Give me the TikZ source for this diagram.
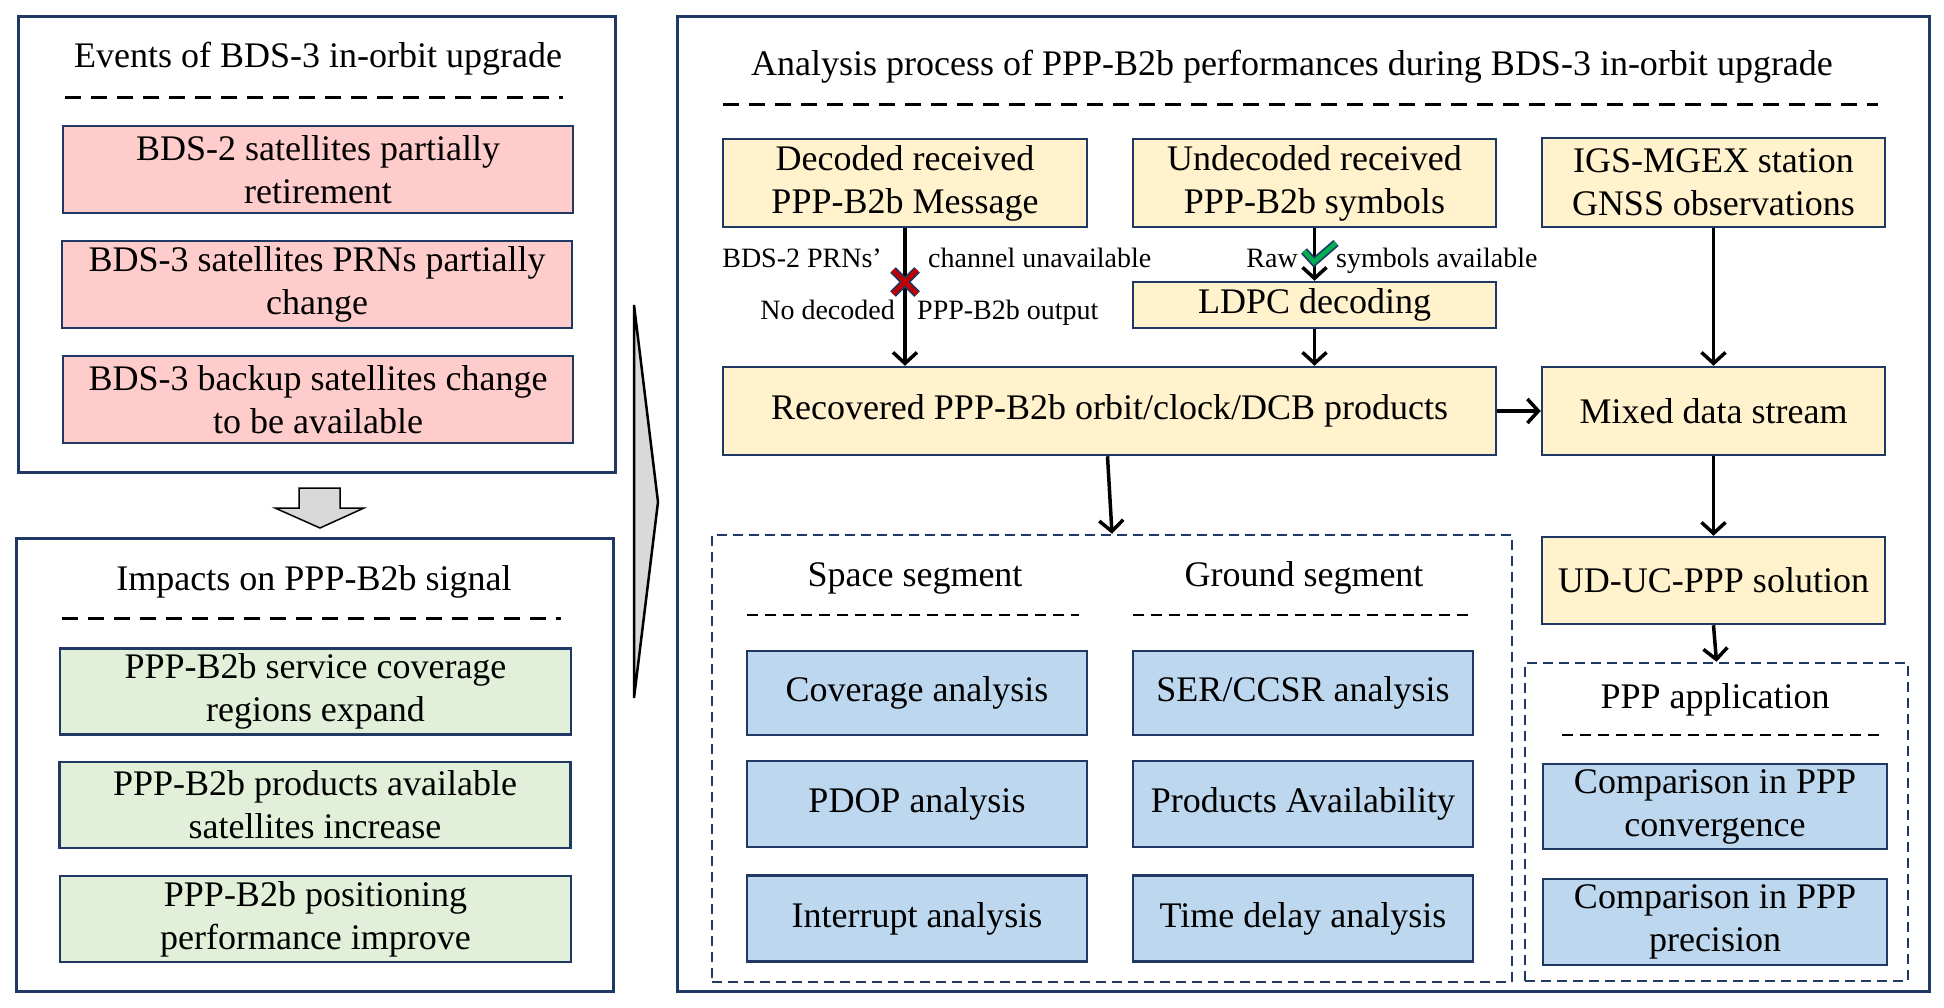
\documentclass[tikz,border=0pt]{standalone}
\usepackage{fontspec}
\setmainfont{Liberation Serif}
\usetikzlibrary{arrows.meta}
\definecolor{navy}{HTML}{203864}
\definecolor{pinkf}{HTML}{FFCCCC}
\definecolor{greenf}{HTML}{E2F0D9}
\definecolor{yellowf}{HTML}{FFF2CC}
\definecolor{bluef}{HTML}{BDD7EE}
\definecolor{greyf}{HTML}{D9D9D9}
\definecolor{crossred}{HTML}{C00000}
\definecolor{checkgreen}{HTML}{00B050}
\begin{document}
\begin{tikzpicture}[x=1pt,y=-1pt,
  txt/.style={font=\fontsize{36}{43}\selectfont, align=center, inner sep=0pt},
  lbl/.style={font=\fontsize{28}{33}\selectfont, inner sep=0pt},
  frame/.style={draw=navy, line width=3pt, fill=white, inner sep=0pt},
  cbox/.style={txt, draw=navy, line width=2.5pt},
  pinkbox/.style={cbox, fill=pinkf, minimum width=510pt, minimum height=87pt},
  greenbox/.style={cbox, fill=greenf, minimum width=511pt, minimum height=86pt},
  yelbox/.style={cbox, fill=yellowf},
  bluebox/.style={cbox, fill=bluef},
  dbox/.style={draw=navy, line width=2.5pt, dash pattern=on 10pt off 6pt, inner sep=0pt},
  sepline/.style={black, line width=3pt, dash pattern=on 16pt off 10pt},
  subline/.style={black, line width=2.5pt, dash pattern=on 11pt off 7pt},
  arr/.style={black, line width=3.5pt, -{Straight Barb[length=11pt,width=24pt]}},
  bigarrow/.style={fill=greyf, draw=black, line width=2.5pt, line join=miter}
]
\useasboundingbox (0,0) rectangle (1944,1007);

% ---------------- Left upper frame ----------------
\node[frame, minimum width=597pt, minimum height=456pt] (evt) at (316.5,244) {};
\node[txt, anchor=base] (evtT) at (318,67) {Events of BDS-3 in-orbit upgrade};
\draw[sepline] (65,97) -- (563,97);
\node[pinkbox] (p1) at (318,169.5) {BDS-2 satellites partially\\retirement};
\node[pinkbox] (p2) at (317,284.5) {BDS-3 satellites PRNs partially\\change};
\node[pinkbox] (p3) at (318,399.5) {BDS-3 backup satellites change\\to be available};

% block arrow down
\draw[fill=greyf, draw=black, line width=1.5pt]
  (299,488) -- (340,488) -- (340,508) -- (364,508) -- (320,528) -- (275,508) -- (299,508) -- cycle;

% ---------------- Left lower frame ----------------
\node[frame, minimum width=597pt, minimum height=453pt] (imp) at (314.5,764.5) {};
\node[txt, anchor=base] (impT) at (314,590) {Impacts on PPP-B2b signal};
\draw[sepline] (62,618) -- (561,618);
\node[greenbox] (g1) at (315.5,691.5) {PPP-B2b service coverage\\regions expand};
\node[greenbox] (g2) at (315,805) {PPP-B2b products available\\satellites increase};
\node[greenbox] (g3) at (315.5,919) {PPP-B2b positioning\\performance improve};

% big grey arrow
\draw[bigarrow] (634,305) -- (658,502) -- (634,698) -- cycle;

% ---------------- Right frame ----------------
\node[frame, minimum width=1252pt, minimum height=975pt] (ana) at (1303,503.5) {};
\node[txt, anchor=base] (anaT) at (1292,75) {Analysis process of PPP-B2b performances during BDS-3 in-orbit upgrade};
\draw[sepline] (723,104) -- (1878,104);

\node[yelbox, minimum width=364pt, minimum height=88pt] (dec) at (905,183) {Decoded received\\PPP-B2b Message};
\node[yelbox, minimum width=363pt, minimum height=88pt] (und) at (1314.5,183) {Undecoded received\\PPP-B2b symbols};
\node[yelbox, minimum width=343pt, minimum height=89pt] (igs) at (1713.5,182.5) {IGS-MGEX station\\GNSS observations};
\node[yelbox, minimum width=363pt, minimum height=46pt] (ldpc) at (1314.5,305) {LDPC decoding};
\node[yelbox, minimum width=773pt, minimum height=88pt] (rec) at (1109.5,411) {Recovered PPP-B2b orbit/clock/DCB products};
\node[yelbox, minimum width=343pt, minimum height=88pt] (mix) at (1713.5,411) {Mixed data stream};
\node[yelbox, minimum width=343pt, minimum height=87pt] (ud) at (1713.5,580.5) {UD-UC-PPP solution};

% segment dashed box
\node[dbox, minimum width=800pt, minimum height=447pt] (seg) at (1112,758.5) {};
\node[txt, anchor=base] (spT) at (915,586) {Space segment};
\node[txt, anchor=base] (grT) at (1304,586) {Ground segment};
\draw[subline] (747,615) -- (1079,615);
\draw[subline] (1133,615) -- (1473,615);
\node[bluebox, minimum width=340pt, minimum height=84pt] (s1) at (917,693) {Coverage analysis};
\node[bluebox, minimum width=340pt, minimum height=86pt] (s2) at (917,804) {PDOP analysis};
\node[bluebox, minimum width=340pt, minimum height=86pt] (s3) at (917,918.5) {Interrupt analysis};
\node[bluebox, minimum width=340pt, minimum height=84pt] (r1) at (1303,693) {SER/CCSR analysis};
\node[bluebox, minimum width=340pt, minimum height=86pt] (r2) at (1303,804) {Products Availability};
\node[bluebox, minimum width=340pt, minimum height=86pt] (r3) at (1303,918.5) {Time delay analysis};

% PPP application dashed box
\node[dbox, minimum width=383pt, minimum height=318pt] (app) at (1716.5,822) {};
\node[txt, anchor=base] (appT) at (1715,708) {PPP application};
\draw[subline] (1562,735) -- (1881,735);
\node[bluebox, minimum width=344pt, minimum height=85pt] (a1) at (1715,806.5) {Comparison in PPP\\convergence};
\node[bluebox, minimum width=344pt, minimum height=86pt] (a2) at (1715,922) {Comparison in PPP\\precision};

% ---------------- connectors ----------------
\draw[arr] (dec.south) -- (dec.south |- rec.north);
\draw[arr] (und.south) -- (ldpc.north);
\draw[arr] (ldpc.south) -- (ldpc.south |- rec.north);
\draw[arr] (igs.south) -- (mix.north);
\draw[arr] (rec.east) -- (mix.west);
\draw[arr] (mix.south) -- (ud.north);
\draw[arr] ([xshift=-2pt]rec.south) -- (seg.north);
\draw[arr] (ud.south) -- (app.north);

% labels
\node[lbl, anchor=base east] (l1) at (882,267) {BDS-2 PRNs’};
\node[lbl, anchor=base west] (l2) at (928,267) {channel unavailable};
\node[lbl, anchor=base east] (l3) at (895,319) {No decoded};
\node[lbl, anchor=base west] (l4) at (917,319) {PPP-B2b output};
\node[lbl, anchor=base east] (l5) at (1298,267) {Raw};
\node[lbl, anchor=base west] (l6) at (1336,267) {symbols available};

% cross mark
\coordinate (xm) at (905,282);
\foreach \c/\w in {navy/8pt, crossred/4.5pt}{
  \draw[draw=\c, line width=\w] ([shift={(-12,-12)}]xm) -- ([shift={(12,12)}]xm);
  \draw[draw=\c, line width=\w] ([shift={(-12,12)}]xm) -- ([shift={(12,-12)}]xm);
}
% check mark
\coordinate (ck) at (1314,262);
\foreach \c/\w in {navy/8pt, checkgreen/4.5pt}{
  \draw[draw=\c, line width=\w, line join=miter] ([shift={(-10,-11)}]ck) -- (ck) -- ([shift={(22,-19)}]ck);
}
\end{tikzpicture}
\end{document}
